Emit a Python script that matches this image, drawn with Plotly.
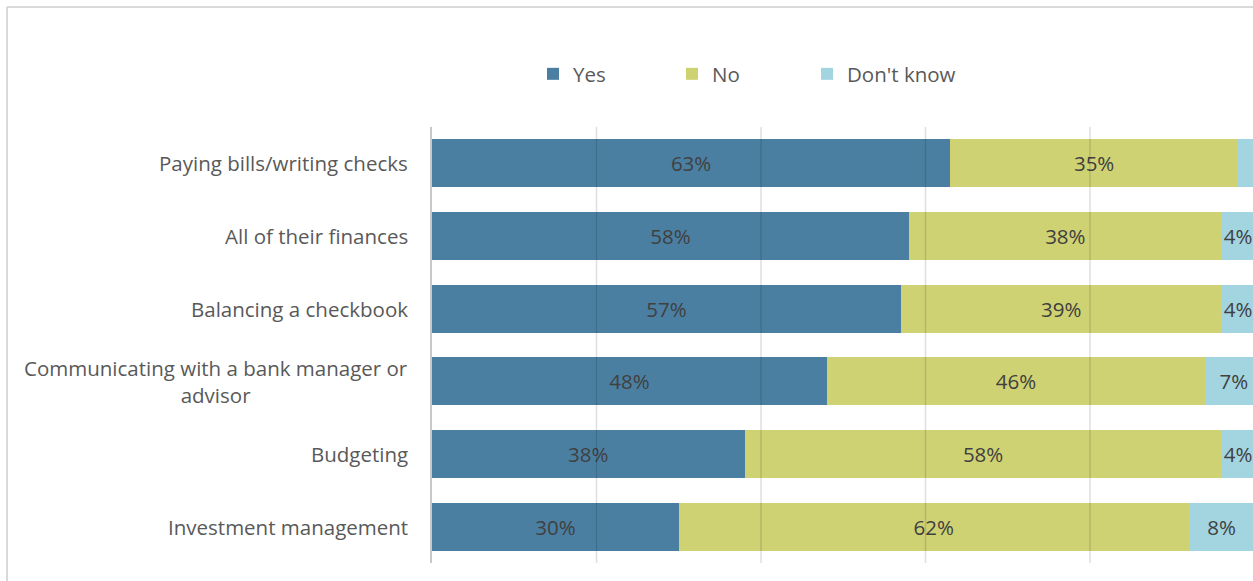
import plotly.graph_objects as go

# Survey responses by activity (percent of respondents)
categories = [
    "Paying bills/writing checks",
    "All of their finances",
    "Balancing a checkbook",
    "Communicating with a bank manager or<br>advisor",
    "Budgeting",
    "Investment management",
]
yes_vals = [63, 58, 57, 48, 38, 30]
no_vals = [35, 38, 39, 46, 58, 62]
dk_vals = [2, 4, 4, 7, 4, 8]
series_names = ["Yes", "No", "Don't know"]
grid_ticks = [20, 40, 60, 80]

colors = ["#4b7fa2", "#cfd273", "#a3d5e1"]
FONT = "Open Sans, Segoe UI, sans-serif"
TEXT_GRAY = "#595959"
LABEL_GRAY = "#404040"
FS = 20.5

W, H = 1253, 581
L, R, T, B = 432, 0, 127, 18
plot_w = W - L - R
plot_h = H - T - B

# one legend box per series so each key sits at its own position
legend_ids = ["legend", "legend2", "legend3"]
legend_left_px = [533, 672, 807]

fig = go.Figure()
for name, vals, col, lid in zip(series_names, [yes_vals, no_vals, dk_vals], colors, legend_ids):
    fig.add_trace(go.Bar(
        name=name,
        y=categories,
        x=vals,
        orientation="h",
        legend=lid,
        marker=dict(color=col, line=dict(width=0)),
        text=[f"{v}%" if v >= 3 else "" for v in vals],
        textposition="inside",
        insidetextanchor="middle",
        textangle=0,
        constraintext="none",
        textfont=dict(family=FONT, size=FS, color=LABEL_GRAY),
        hoverinfo="skip",
    ))

# category labels, right-aligned block with centred lines
annotations = []
for c in categories:
    annotations.append(dict(
        xref="paper", yref="y", x=0, y=c, xshift=-22,
        xanchor="right", yanchor="middle", align="center",
        text=c, showarrow=False,
        font=dict(family=FONT, size=FS, color=TEXT_GRAY),
    ))

shapes = []
# vertical gridlines drawn over the bars
for t in grid_ticks:
    shapes.append(dict(
        type="line", xref="x", yref="paper", x0=t, x1=t, y0=0, y1=1,
        line=dict(color="rgba(0,0,0,0.13)", width=1.5), layer="above",
    ))
# chart frame (left and top edges)
fx = (7 - L) / plot_w
fy = 1 + (T - 7) / plot_h
shapes.append(dict(type="line", xref="paper", yref="paper", x0=fx, x1=1.1,
                   y0=fy, y1=fy, line=dict(color="#d9d9d9", width=2)))
shapes.append(dict(type="line", xref="paper", yref="paper", x0=fx, x1=fx,
                   y0=fy, y1=-0.2, line=dict(color="#d9d9d9", width=2)))

legend_style = dict(
    orientation="h",
    xref="container", yref="container",
    y=1 - 74 / H,
    xanchor="left", yanchor="middle",
    font=dict(family=FONT, size=FS, color=TEXT_GRAY),
    itemwidth=30,
    bgcolor="rgba(0,0,0,0)",
)

fig.update_layout(
    width=W, height=H,
    margin=dict(l=L, r=R, t=T, b=B, pad=0),
    barmode="stack",
    bargap=0.34,
    plot_bgcolor="white",
    paper_bgcolor="white",
    font=dict(family=FONT, color=TEXT_GRAY),
    showlegend=True,
    legend=dict(legend_style, x=legend_left_px[0] / W),
    legend2=dict(legend_style, x=legend_left_px[1] / W),
    legend3=dict(legend_style, x=legend_left_px[2] / W),
    xaxis=dict(range=[0, 100 * plot_w / 822.5], showgrid=False, zeroline=False,
               showticklabels=False, ticks="", fixedrange=True),
    yaxis=dict(autorange="reversed", showticklabels=False, ticks="",
               showline=True, linecolor="#c8c8c8", linewidth=2,
               showgrid=False, zeroline=False),
    annotations=annotations,
    shapes=shapes,
)

fig.write_html("out.html")
